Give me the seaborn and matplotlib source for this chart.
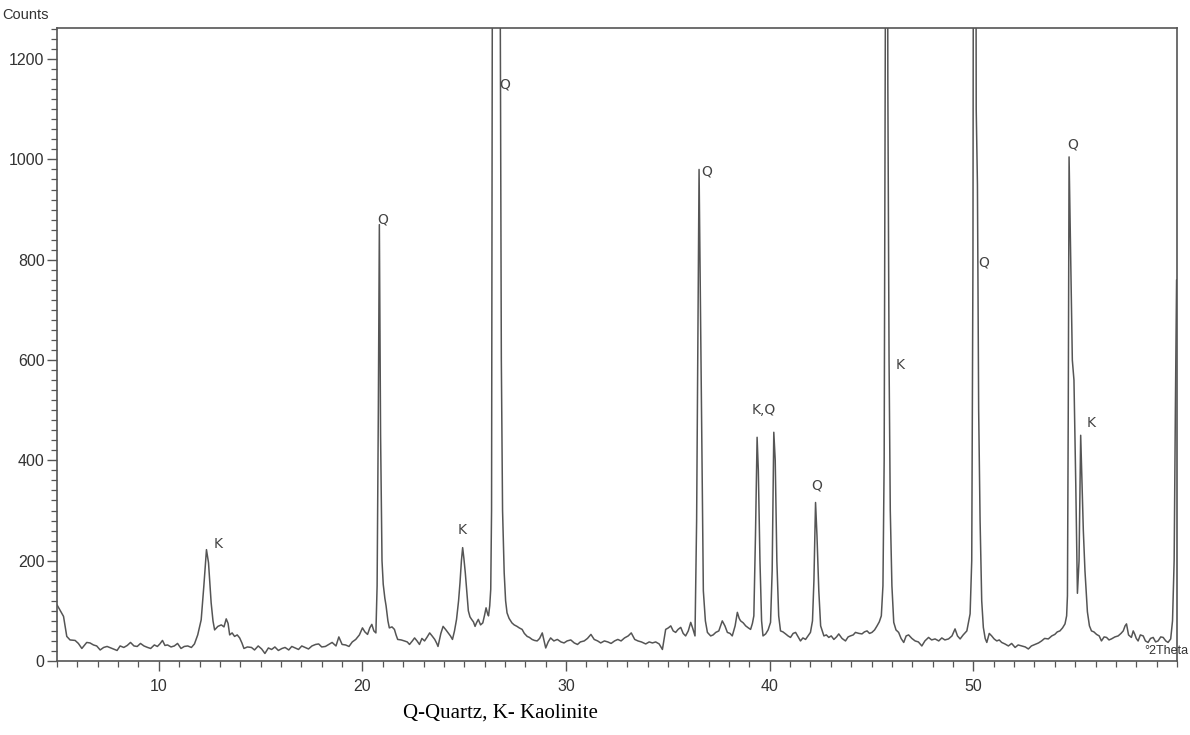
import numpy as np
import pandas as pd
import matplotlib
matplotlib.use("Agg")
import matplotlib.pyplot as plt
import seaborn as sns
from matplotlib.ticker import MultipleLocator

# ---- data (2-theta in degrees, intensity in counts) ----
two_theta = [
    5.0, 5.32, 5.48, 5.64, 5.89, 6.05, 6.22, 6.46, 6.62, 6.79, 6.95, 7.12, 7.29, 7.46, 7.7, 7.95,
    8.1, 8.28, 8.45, 8.61, 8.78, 8.94, 9.1, 9.27, 9.45, 9.6, 9.78, 9.93, 10.05, 10.18, 10.3, 10.43,
    10.6, 10.76, 10.92, 11.09, 11.25, 11.42, 11.6, 11.75, 11.91, 12.08, 12.21, 12.34, 12.44, 12.57,
    12.66, 12.74, 12.9, 13.07, 13.2, 13.31, 13.4, 13.48, 13.6, 13.72, 13.85, 13.97, 14.08, 14.18,
    14.35, 14.55, 14.7, 14.88, 15.05, 15.21, 15.38, 15.54, 15.7, 15.87, 16.05, 16.2, 16.38, 16.53,
    16.7, 16.86, 17.02, 17.19, 17.35, 17.52, 17.7, 17.85, 18.0, 18.18, 18.35, 18.51, 18.7, 18.84,
    19.0, 19.17, 19.34, 19.5, 19.67, 19.85, 20.0, 20.12, 20.25, 20.36, 20.46, 20.56, 20.66, 20.72,
    20.78, 20.83, 20.89, 20.96, 21.02, 21.1, 21.16, 21.25, 21.32, 21.45, 21.57, 21.65, 21.73, 21.9,
    22.06, 22.2, 22.31, 22.45, 22.56, 22.68, 22.8, 22.92, 23.05, 23.18, 23.3, 23.42, 23.55, 23.65,
    23.71, 23.85, 23.96, 24.1, 24.21, 24.32, 24.42, 24.52, 24.62, 24.72, 24.79, 24.86, 24.92, 24.98,
    25.05, 25.12, 25.2, 25.28, 25.36, 25.45, 25.53, 25.6, 25.69, 25.8, 25.91, 26.0, 26.07, 26.14,
    26.19, 26.25, 26.3, 26.34, 26.38, 26.42, 26.52, 26.64, 26.76, 26.82, 26.88, 26.96, 27.03, 27.1,
    27.2, 27.34, 27.45, 27.59, 27.7, 27.84, 27.95, 28.09, 28.2, 28.33, 28.45, 28.58, 28.7, 28.83,
    28.92, 29.0, 29.12, 29.24, 29.4, 29.57, 29.75, 29.9, 30.05, 30.23, 30.4, 30.56, 30.7, 30.89,
    31.05, 31.22, 31.38, 31.55, 31.7, 31.88, 32.05, 32.21, 32.38, 32.54, 32.7, 32.87, 33.05, 33.2,
    33.37, 33.53, 33.7, 33.91, 34.08, 34.24, 34.4, 34.57, 34.73, 34.89, 35.02, 35.14, 35.26, 35.38,
    35.5, 35.63, 35.75, 35.87, 36.0, 36.12, 36.22, 36.33, 36.41, 36.53, 36.6, 36.67, 36.74, 36.84,
    36.94, 37.1, 37.22, 37.35, 37.5, 37.67, 37.8, 37.92, 38.05, 38.16, 38.3, 38.41, 38.5, 38.57,
    38.7, 38.82, 38.95, 39.06, 39.15, 39.22, 39.3, 39.38, 39.44, 39.52, 39.6, 39.67, 39.8, 39.92,
    40.04, 40.12, 40.2, 40.27, 40.35, 40.44, 40.53, 40.65, 40.78, 40.9, 41.02, 41.15, 41.27, 41.4,
    41.51, 41.63, 41.76, 41.88, 42.0, 42.1, 42.17, 42.25, 42.32, 42.41, 42.5, 42.66, 42.78, 42.9,
    43.02, 43.15, 43.28, 43.39, 43.55, 43.72, 43.85, 43.96, 44.1, 44.21, 44.38, 44.53, 44.65, 44.78,
    44.9, 45.02, 45.15, 45.27, 45.38, 45.48, 45.56, 45.62, 45.68, 45.74, 45.8, 45.86, 45.92, 46.0,
    46.09, 46.2, 46.33, 46.45, 46.58, 46.7, 46.82, 46.98, 47.14, 47.3, 47.47, 47.62, 47.8, 47.95,
    48.12, 48.3, 48.45, 48.6, 48.78, 48.95, 49.1, 49.22, 49.35, 49.5, 49.68, 49.84, 49.92, 49.98,
    50.06, 50.14, 50.2, 50.26, 50.33, 50.41, 50.49, 50.58, 50.66, 50.78, 50.9, 51.02, 51.15, 51.27,
    51.39, 51.55, 51.72, 51.88, 52.05, 52.2, 52.37, 52.55, 52.7, 52.85, 53.03, 53.2, 53.35, 53.5,
    53.68, 53.85, 54.0, 54.12, 54.25, 54.38, 54.5, 54.58, 54.62, 54.66, 54.7, 54.78, 54.86, 54.94,
    55.03, 55.11, 55.19, 55.27, 55.34, 55.4, 55.48, 55.6, 55.7, 55.8, 55.92, 56.05, 56.18, 56.29,
    56.42, 56.54, 56.66, 56.78, 56.95, 57.11, 57.25, 57.36, 57.45, 57.52, 57.62, 57.76, 57.85, 57.93,
    58.0, 58.09, 58.2, 58.34, 58.45, 58.58, 58.7, 58.83, 58.95, 59.07, 59.2, 59.32, 59.45, 59.56,
    59.69, 59.78, 59.86, 59.92, 59.98,
]
counts = [
    112, 89, 49, 42, 41, 35, 25, 37, 36, 32, 30, 22, 27, 29, 25, 21,
    30, 27, 31, 37, 30, 29, 35, 30, 27, 25, 32, 29, 34, 41, 31, 32,
    28, 30, 35, 25, 29, 30, 27, 34, 52, 82, 149, 222, 196, 116,
    80, 62, 69, 72, 68, 84, 75, 52, 56, 49, 52, 46, 36, 25,
    28, 27, 22, 30, 24, 15, 26, 23, 28, 21, 25, 27, 22, 29,
    26, 23, 30, 27, 24, 30, 33, 34, 28, 29, 33, 37, 30, 48,
    33, 32, 29, 38, 43, 52, 66, 58, 53, 66, 73, 60, 56, 150,
    500, 870, 450, 200, 153, 125, 110, 80, 66, 68, 63, 52, 43, 42,
    40, 38, 33, 40, 46, 40, 33, 45, 40, 48, 56, 50, 43, 35,
    29, 55, 69, 62, 56, 50, 43, 60, 83, 120, 156, 200, 226, 205,
    176, 140, 100, 88, 83, 78, 69, 76, 83, 72, 76, 92, 106, 95,
    90, 110, 143, 300, 1400, 4200, 4200, 4200, 1400, 600, 300, 176, 120, 96,
    85, 76, 72, 69, 66, 63, 55, 49, 47, 43, 41, 40, 45, 56,
    40, 26, 38, 46, 40, 43, 38, 36, 40, 42, 36, 33, 38, 40,
    45, 53, 43, 40, 36, 40, 38, 35, 40, 43, 40, 46, 50, 56,
    43, 40, 38, 34, 38, 36, 38, 34, 23, 63, 66, 70, 60, 57,
    63, 67, 55, 50, 60, 77, 65, 50, 280, 980, 700, 400, 140, 80,
    57, 50, 52, 57, 60, 80, 70, 57, 55, 50, 70, 97, 85, 80,
    76, 70, 66, 63, 75, 90, 250, 446, 380, 200, 80, 50, 54, 62,
    77, 180, 456, 400, 200, 90, 60, 58, 54, 50, 47, 55, 57, 48,
    40, 46, 43, 50, 57, 80, 160, 316, 250, 140, 70, 50, 52, 47,
    50, 43, 48, 54, 45, 40, 48, 50, 52, 57, 55, 54, 58, 60,
    55, 57, 62, 70, 78, 90, 150, 400, 1300, 3500, 1150, 600, 300, 150,
    77, 62, 57, 45, 37, 50, 52, 45, 40, 38, 30, 40, 47, 42,
    44, 40, 46, 42, 44, 50, 64, 50, 44, 52, 60, 94, 200, 800,
    3500, 1100, 950, 500, 280, 120, 67, 45, 37, 55, 50, 44, 40, 42,
    37, 34, 30, 35, 27, 32, 30, 28, 24, 30, 33, 36, 40, 45,
    44, 50, 53, 58, 60, 66, 74, 90, 130, 500, 1005, 800, 600, 560,
    350, 135, 200, 450, 350, 260, 180, 98, 70, 60, 58, 53, 50, 40,
    48, 47, 42, 44, 48, 50, 55, 60, 70, 74, 52, 47, 60, 53,
    45, 40, 52, 50, 40, 37, 45, 47, 38, 40, 48, 47, 40, 37,
    44, 80, 200, 500, 760,
]

# hand-written phase labels on the original scan
label_text = ["K", "Q", "K", "Q", "Q", "K,Q", "Q", "K", "Q", "Q", "K"]
label_x = [12.9, 21.0, 24.9, 27.0, 36.9, 39.7, 42.3, 46.4, 50.5, 54.9, 55.8]
label_y = [234, 880, 262, 1150, 975, 500, 350, 590, 795, 1030, 475]

caption = "Q-Quartz, K- Kaolinite"

df = pd.DataFrame({"two_theta": two_theta, "counts": counts})

sns.set_theme(style="white")
plt.rcParams["font.family"] = ["Liberation Sans", "DejaVu Sans"]

fig = plt.figure(figsize=(11.9, 7.35), dpi=100)
ax = fig.add_axes([57 / 1190, 1 - 661 / 735, (1177 - 57) / 1190, (661 - 28) / 735])

line_col = "#555555"
sns.lineplot(data=df, x="two_theta", y="counts", ax=ax, color=line_col,
             linewidth=1.1, sort=False, estimator=None)

ax.set_xlim(5, 60)
ax.set_ylim(0, 1262)
ax.set_xlabel("")
ax.set_ylabel("")

ax.xaxis.set_major_locator(MultipleLocator(10))
ax.xaxis.set_minor_locator(MultipleLocator(1))
ax.yaxis.set_major_locator(MultipleLocator(200))
ax.yaxis.set_minor_locator(MultipleLocator(20))
ax.tick_params(axis="both", which="major", direction="out", length=7, width=1.0,
               color=line_col, labelsize=11.5, labelcolor="#333333", pad=2)
ax.tick_params(axis="both", which="minor", direction="out", length=4, width=0.9,
               color=line_col)
ax.tick_params(axis="x", which="major", pad=6)
ax.tick_params(bottom=True, left=True, which="both")
ax.set_xticks([10, 20, 30, 40, 50])

for sp in ax.spines.values():
    sp.set_color(line_col)
    sp.set_linewidth(1.2)

for t, x, y in zip(label_text, label_x, label_y):
    ax.text(x, y, t, fontsize=10, color="#444444", ha="center", va="center",
            family=["DejaVu Sans"])

fig.text(2 / 1190, 1 - 15 / 735, "Counts", fontsize=10.5, color="#333333",
         ha="left", va="center")
fig.text(1188 / 1190, 1 - 651 / 735, "°2Theta", fontsize=9, color="#333333",
         ha="right", va="center")
fig.text(500 / 1190, 1 - 713 / 735, caption, fontsize=15, color="black",
         ha="center", va="center", family=["Liberation Serif", "DejaVu Serif"])

fig.savefig("out.png", dpi=100, facecolor="white")
